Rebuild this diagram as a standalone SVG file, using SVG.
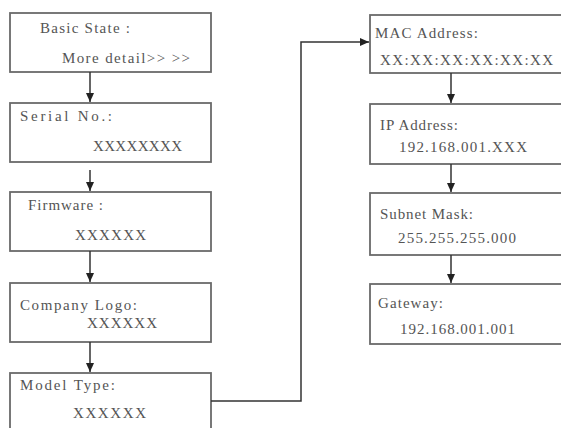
<svg xmlns="http://www.w3.org/2000/svg" width="561" height="428" viewBox="0 0 561 428">
<defs>
<marker id="ah" markerWidth="10" markerHeight="10" refX="9" refY="5" orient="auto" markerUnits="userSpaceOnUse">
<path d="M0,1 L9,5 L0,9 Z" fill="#222"/>
</marker>
</defs>
<style>
.box{fill:#fff;stroke:#6a6a6a;stroke-width:1.8}
.t{font-size:15px;fill:#555}
.c{fill:none;stroke:#333;stroke-width:1.5}
</style>
<rect width="561" height="428" fill="#fff"/>
<g font-family="Liberation Serif, DejaVu Serif, serif">
<g id="basic-state">
<rect class="box" x="10" y="13" width="201" height="59"/>
<text class="t" x="40" y="33" textLength="90" lengthAdjust="spacing">Basic  State :</text>
<text class="t" x="62" y="63" textLength="128" lengthAdjust="spacing">More  detail&gt;&gt; &gt;&gt;</text>
</g>
<g id="serial">
<rect class="box" x="10" y="103" width="201" height="59"/>
<text class="t" x="20" y="121" textLength="92" lengthAdjust="spacing">Serial    No.:</text>
<text class="t" x="93" y="151" textLength="89" lengthAdjust="spacing">XXXXXXXX</text>
</g>
<g id="firmware">
<rect class="box" x="10" y="192" width="201" height="59"/>
<text class="t" x="28" y="210" textLength="75" lengthAdjust="spacing">Firmware :</text>
<text class="t" x="75" y="240" textLength="71" lengthAdjust="spacing">XXXXXX</text>
</g>
<g id="company-logo">
<rect class="box" x="10" y="283" width="201" height="59"/>
<text class="t" x="20" y="310" textLength="117" lengthAdjust="spacing">Company  Logo:</text>
<text class="t" x="87" y="328" textLength="70" lengthAdjust="spacing">XXXXXX</text>
</g>
<g id="model-type">
<rect class="box" x="10" y="373" width="201" height="70"/>
<text class="t" x="20" y="390" textLength="95" lengthAdjust="spacing">Model  Type:</text>
<text class="t" x="73" y="418" textLength="73" lengthAdjust="spacing">XXXXXX</text>
</g>
<g id="mac">
<rect class="box" x="370" y="15" width="200" height="58"/>
<text class="t" x="375" y="38" textLength="103" lengthAdjust="spacing">MAC Address:</text>
<text class="t" x="380" y="65" textLength="173" lengthAdjust="spacing">XX:XX:XX:XX:XX:XX</text>
</g>
<g id="ip">
<rect class="box" x="370" y="104" width="200" height="60"/>
<text class="t" x="380" y="130" textLength="78" lengthAdjust="spacing">IP Address:</text>
<text class="t" x="399" y="152" textLength="128" lengthAdjust="spacing">192.168.001.XXX</text>
</g>
<g id="subnet">
<rect class="box" x="370" y="193" width="200" height="62"/>
<text class="t" x="380" y="219" textLength="93" lengthAdjust="spacing">Subnet Mask:</text>
<text class="t" x="398" y="243" textLength="118" lengthAdjust="spacing">255.255.255.000</text>
</g>
<g id="gateway">
<rect class="box" x="370" y="284" width="200" height="60"/>
<text class="t" x="378" y="308" textLength="65" lengthAdjust="spacing">Gateway:</text>
<text class="t" x="400" y="334" textLength="115" lengthAdjust="spacing">192.168.001.001</text>
</g>
</g>
<g id="connectors">
<line class="c" x1="90" y1="72" x2="90" y2="102" marker-end="url(#ah)"/>
<line class="c" x1="90" y1="170" x2="90" y2="191" marker-end="url(#ah)"/>
<line class="c" x1="90" y1="251" x2="90" y2="282" marker-end="url(#ah)"/>
<line class="c" x1="90" y1="342" x2="90" y2="372" marker-end="url(#ah)"/>
<polyline class="c" points="211,401 301,401 301,42 369,42" marker-end="url(#ah)"/>
<line class="c" x1="451" y1="73" x2="451" y2="103" marker-end="url(#ah)"/>
<line class="c" x1="451" y1="164" x2="451" y2="192" marker-end="url(#ah)"/>
<line class="c" x1="451" y1="255" x2="451" y2="283" marker-end="url(#ah)"/>
</g>
</svg>
